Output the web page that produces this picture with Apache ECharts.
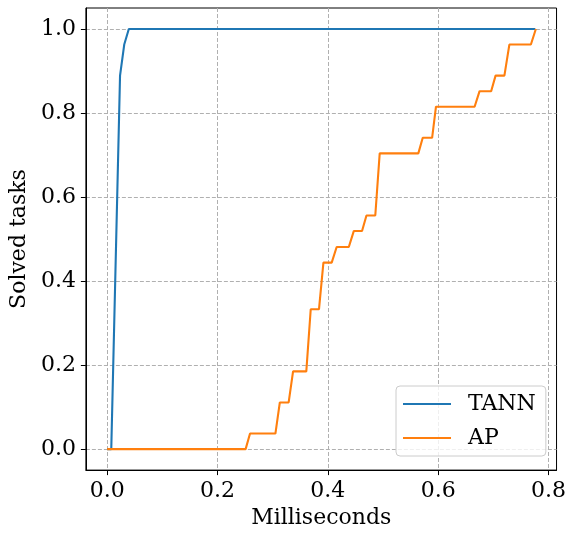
<!DOCTYPE html>
<html>
<head>
<meta charset="utf-8">
<script src="https://cdn.jsdelivr.net/npm/echarts@6/dist/echarts.min.js"></script>
<style>
html,body{margin:0;padding:0;background:#fff;}
#chart{width:569px;height:534px;}
</style>
</head>
<body>
<div id="chart"></div>
<script>
// Data
const seriesNames = ['TANN', 'AP'];
const tannX = [0, 0.0075, 0.0234, 0.031, 0.0393, 0.776];
const tannY = [0, 0, 0.889, 0.963, 1.0, 1.0];
const apX = [0, 0.251, 0.259, 0.305, 0.313, 0.329, 0.337, 0.361, 0.369, 0.384, 0.392, 0.407, 0.416, 0.438, 0.447, 0.462, 0.470, 0.486, 0.494, 0.564, 0.572, 0.589, 0.596, 0.666, 0.675, 0.696, 0.704, 0.720, 0.729, 0.768, 0.777];
const apY = [0, 0, 0.037, 0.037, 0.111, 0.111, 0.185, 0.185, 0.333, 0.333, 0.444, 0.444, 0.481, 0.481, 0.519, 0.519, 0.556, 0.556, 0.704, 0.704, 0.741, 0.741, 0.815, 0.815, 0.852, 0.852, 0.889, 0.889, 0.963, 0.963, 1.0];
const xTicks = [0, 0.2, 0.4, 0.6, 0.8];
const yTicks = [0, 0.2, 0.4, 0.6, 0.8, 1.0];
const xTitle = 'Milliseconds';
const yTitle = 'Solved tasks';

const zip = (xs, ys) => xs.map((x, i) => [x, ys[i]]);
const FONT = 'DejaVu Serif';
const gridStyle = {show: true, lineStyle: {color: '#b0b0b0', width: 1, type: [4, 2]}};

const chart = echarts.init(document.getElementById('chart'), null, {renderer: 'canvas'});
chart.setOption({
  backgroundColor: '#fff',
  animation: false,
  grid: {left: 84, right: 11, top: 8, bottom: 63, show: true, borderColor: '#000', borderWidth: 1, backgroundColor: 'transparent'},
  xAxis: {
    type: 'value', min: -0.0385, max: 0.8145,
    name: xTitle, nameLocation: 'middle', nameGap: 36,
    nameTextStyle: {fontFamily: FONT, fontSize: 22, color: '#000'},
    axisLine: {show: true, onZero: false, lineStyle: {color: '#000', width: 1}},
    axisTick: {show: true, length: 5, lineStyle: {color: '#000'}, customValues: xTicks},
    axisLabel: {fontFamily: FONT, fontSize: 22, color: '#000', margin: 10, customValues: xTicks, formatter: v => v.toFixed(1)},
    splitLine: gridStyle
  },
  yAxis: {
    type: 'value', min: -0.05, max: 1.05,
    name: yTitle, nameLocation: 'middle', nameGap: 52,
    nameTextStyle: {fontFamily: FONT, fontSize: 22, color: '#000'},
    axisLine: {show: true, onZero: false, lineStyle: {color: '#000', width: 1}},
    axisTick: {show: true, length: 5, lineStyle: {color: '#000'}, customValues: yTicks},
    axisLabel: {fontFamily: FONT, fontSize: 22, color: '#000', margin: 10, customValues: yTicks, formatter: v => v.toFixed(1)},
    splitLine: gridStyle
  },
  legend: {
    orient: 'vertical', left: 396, top: 386,
    padding: [7, 10, 7, 7], itemGap: 12, itemWidth: 48, itemHeight: 2, icon: 'rect',
    backgroundColor: 'rgba(255,255,255,0.8)', borderColor: '#cccccc', borderWidth: 1, borderRadius: 4,
    textStyle: {fontFamily: FONT, fontSize: 22, color: '#000', padding: [0, 0, 0, 12]},
    data: seriesNames
  },
  series: [
    {name: seriesNames[0], type: 'line', data: zip(tannX, tannY), showSymbol: false, symbol: 'none',
     lineStyle: {color: '#1f77b4', width: 2.1}, itemStyle: {color: '#1f77b4'}},
    {name: seriesNames[1], type: 'line', data: zip(apX, apY), showSymbol: false, symbol: 'none',
     lineStyle: {color: '#ff7f0e', width: 2.1}, itemStyle: {color: '#ff7f0e'}}
  ]
});
</script>
</body>
</html>
